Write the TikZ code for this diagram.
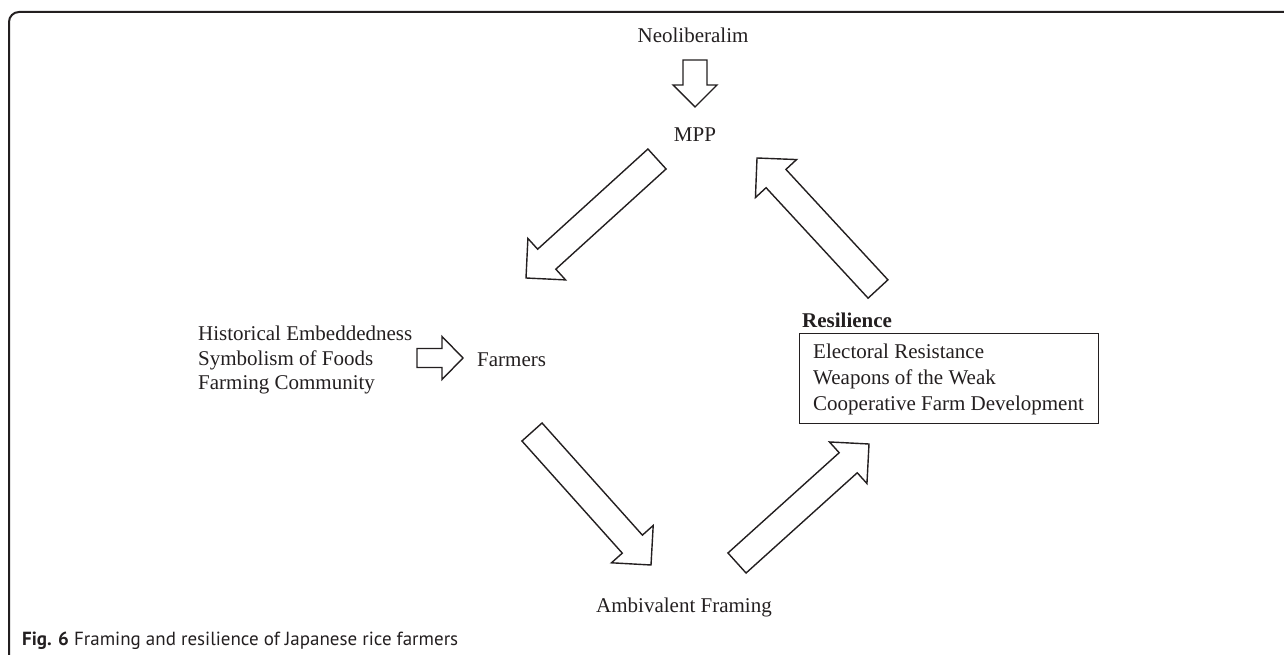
\documentclass[tikz,border=0pt]{standalone}
\usepackage{fontspec}
\setmainfont{Liberation Serif}
\newfontfamily\capfont{PT Sans}
\usetikzlibrary{calc}
\definecolor{ink}{HTML}{231F20}
\newcommand{\blockarr}[5]{%
  \coordinate (#1-h) at ($(#2)!#5!(#1)$);
  \draw[blockarrow] ($(#1)!#3!90:(#2)$) -- ($(#1-h)!#3!-90:(#1)$) -- ($(#1-h)!#4!-90:(#1)$) -- (#2) -- ($(#1-h)!#4!90:(#1)$) -- ($(#1-h)!#3!90:(#1)$) -- ($(#1)!#3!-90:(#2)$) -- cycle;
}
\begin{document}
\begin{tikzpicture}[x=1pt,y=-1pt,
  lbl/.style={inner sep=0pt, text=ink, font=\fontsize{21}{25}\selectfont},
  blockarrow/.style={draw=ink, line width=1.4pt, fill=white, line join=miter},
  frame/.style={draw=ink, line width=2pt, rounded corners=10pt}]
\useasboundingbox (0,0) rectangle (1284,655);
\draw[frame] (1300,12) -- (9,12) -- (9,670);
% top
\node[lbl, anchor=base] (neo) at (693,43) {Neoliberalim};
\node[lbl, anchor=base] (mpp) at (695,142) {MPP};
\coordinate (a0) at (695,60); \coordinate (a1) at (695,107);
\blockarr{a0}{a1}{12pt}{22pt}{22pt}
% left
\node[lbl, anchor=base west] (l1) at (198,340) {Historical Embeddedness};
\node[lbl, anchor=base west] (l2) at (198,365) {Symbolism of Foods};
\node[lbl, anchor=base west] (l3) at (198,389) {Farming Community};
\node[lbl, anchor=base west] (farm) at (477,366) {Farmers};
\coordinate (s0) at (417,358); \coordinate (s1) at (463,358);
\blockarr{s0}{s1}{9.5pt}{21.5pt}{21pt}
% right
\node[lbl, anchor=base west, font=\fontsize{21}{25}\selectfont\bfseries] (res) at (802,327) {Resilience};
\node[draw=ink, line width=1.2pt, inner sep=0pt, minimum width=299pt, minimum height=90pt, anchor=north west] (box) at (799,333) {};
\node[lbl, anchor=base west] (r1) at (813,358) {Electoral Resistance};
\node[lbl, anchor=base west] (r2) at (813,384) {Weapons of the Weak};
\node[lbl, anchor=base west] (r3) at (813,410) {Cooperative Farm Development};
% bottom
\node[lbl, anchor=base] (amb) at (684,612) {Ambivalent Framing};
% cycle arrows
\coordinate (b0) at (657,159); \coordinate (b1) at (526,278);
\blockarr{b0}{b1}{13.5pt}{28pt}{28pt}
\coordinate (e0) at (532,432); \coordinate (e1) at (651,565);
\blockarr{e0}{e1}{13.5pt}{28pt}{28pt}
\coordinate (d0) at (737,563); \coordinate (d1) at (869,444);
\blockarr{d0}{d1}{13.5pt}{28pt}{28pt}
\coordinate (c0) at (878,289); \coordinate (c1) at (757,158);
\blockarr{c0}{c1}{13.5pt}{28pt}{28pt}
% caption
\node[inner sep=0pt, anchor=base west, text=ink, font=\capfont\fontsize{19}{23}\selectfont] (cap) at (22,645) {\textbf{Fig. 6} Framing and resilience of Japanese rice farmers};
\end{tikzpicture}
\end{document}
